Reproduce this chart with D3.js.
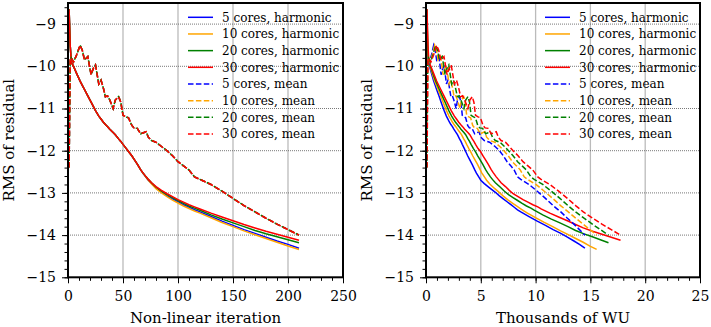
<!DOCTYPE html>
<html>
<head>
<meta charset="utf-8">
<script src="https://cdn.jsdelivr.net/npm/d3@7"></script>
<style>
  body { margin: 0; background: #fff; }
  svg { display: block; font-family: "DejaVu Serif", serif; }
</style>
</head>
<body>
<script>
// iteration numbers the curves were sampled at
const iters = [1, 2, 3, 5, 8, 11, 13, 15, 18, 21, 23, 25, 28, 30, 32, 34, 36, 38, 41, 43,
  46, 48, 50, 53, 55, 58, 60, 63, 66, 68, 71, 73, 76, 80, 85, 90, 95, 100, 105, 110,
  115, 120, 130, 140, 150, 160, 170, 180, 190, 200, 210];

// the four "mean" runs lie on top of each other in iteration space
const meanRms = [-12.4, -9.85, -9.8, -9.9, -9.72, -9.5, -9.62, -9.85, -9.77, -10.2,
  -10.05, -9.97, -10.42, -10.33, -10.5, -10.72, -10.7, -10.8, -11.0, -10.8,
  -10.72, -10.85, -11.16, -11.2, -11.22, -11.4, -11.46, -11.47, -11.6, -11.58,
  -11.55, -11.68, -11.76, -11.8, -11.9, -12.0, -12.12, -12.26, -12.36, -12.46,
  -12.62, -12.68, -12.8, -12.96, -13.13, -13.3, -13.45, -13.6, -13.74, -13.87, -14.0];

const harm30 = [-8.65, -9.5, -9.9, -10.0, -10.18, -10.35, -10.45, -10.55, -10.7, -10.85,
  -10.95, -11.05, -11.18, -11.25, -11.32, -11.38, -11.43, -11.49, -11.57, -11.62,
  -11.72, -11.78, -11.85, -11.95, -12.02, -12.12, -12.2, -12.32, -12.45, -12.52,
  -12.62, -12.68, -12.76, -12.85, -12.94, -13.02, -13.09, -13.16, -13.22, -13.28,
  -13.33, -13.38, -13.48, -13.57, -13.66, -13.75, -13.83, -13.91, -13.98, -14.05, -14.12];
const harm20 = [-8.65, -9.5, -9.9, -10.0, -10.18, -10.35, -10.45, -10.55, -10.7, -10.85,
  -10.95, -11.05, -11.18, -11.25, -11.32, -11.38, -11.43, -11.49, -11.57, -11.62,
  -11.72, -11.78, -11.85, -11.95, -12.02, -12.12, -12.2, -12.32, -12.45, -12.52,
  -12.62, -12.68, -12.76, -12.86, -12.96, -13.04, -13.11, -13.18, -13.25, -13.31,
  -13.36, -13.41, -13.52, -13.62, -13.71, -13.8, -13.89, -13.97, -14.04, -14.11, -14.18];
const harm10 = [-8.65, -9.5, -9.9, -10.0, -10.18, -10.35, -10.45, -10.55, -10.7, -10.85,
  -10.95, -11.05, -11.18, -11.25, -11.32, -11.38, -11.43, -11.49, -11.57, -11.62,
  -11.72, -11.78, -11.85, -11.95, -12.02, -12.12, -12.2, -12.32, -12.45, -12.53,
  -12.63, -12.7, -12.79, -12.9, -13.0, -13.09, -13.17, -13.24, -13.31, -13.37,
  -13.43, -13.48, -13.59, -13.7, -13.8, -13.9, -13.99, -14.08, -14.17, -14.26, -14.34];
const harm5 = [-8.65, -9.5, -9.9, -10.0, -10.18, -10.35, -10.45, -10.55, -10.7, -10.85,
  -10.95, -11.05, -11.18, -11.25, -11.32, -11.38, -11.43, -11.49, -11.57, -11.62,
  -11.72, -11.78, -11.85, -11.95, -12.02, -12.12, -12.2, -12.32, -12.45, -12.53,
  -12.63, -12.7, -12.78, -12.88, -12.98, -13.07, -13.14, -13.21, -13.28, -13.34,
  -13.4, -13.45, -13.56, -13.67, -13.77, -13.87, -13.96, -14.05, -14.14, -14.22, -14.31];

// cumulative work units (thousands) spent at each sampled iteration
const wu5 = [0.06, 0.13, 0.19, 0.32, 0.51, 0.7, 0.84, 0.97, 1.18, 1.38,
  1.52, 1.66, 1.86, 2.0, 2.13, 2.27, 2.41, 2.54, 2.75, 2.87,
  3.06, 3.19, 3.31, 3.5, 3.62, 3.8, 3.96, 4.2, 4.44, 4.6,
  4.84, 5.0, 5.32, 5.8, 6.3, 6.7, 7.05, 7.4, 7.75, 8.05,
  8.35, 8.65, 9.4, 10.15, 10.9, 11.6, 12.3, 12.9, 13.5, 14.0, 14.5];
const wu10 = [0.07, 0.15, 0.21, 0.36, 0.58, 0.79, 0.95, 1.1, 1.33, 1.56,
  1.71, 1.87, 2.1, 2.26, 2.41, 2.56, 2.72, 2.87, 3.1, 3.24,
  3.44, 3.58, 3.71, 3.91, 4.07, 4.26, 4.43, 4.69, 4.94, 5.1,
  5.36, 5.53, 5.82, 6.28, 6.73, 7.11, 7.5, 7.88, 8.26, 8.61,
  8.96, 9.26, 10.03, 10.79, 11.56, 12.28, 12.98, 13.66, 14.34, 14.96, 15.57];
const wu20 = [0.08, 0.16, 0.24, 0.4, 0.64, 0.88, 1.05, 1.22, 1.48, 1.74,
  1.91, 2.08, 2.34, 2.51, 2.68, 2.86, 3.02, 3.19, 3.46, 3.62,
  3.83, 3.97, 4.11, 4.33, 4.51, 4.72, 4.9, 5.17, 5.44, 5.61,
  5.88, 6.06, 6.33, 6.76, 7.16, 7.53, 7.94, 8.36, 8.77, 9.17,
  9.57, 9.87, 10.65, 11.44, 12.22, 12.95, 13.65, 14.42, 15.18, 15.91, 16.65];
const wu30 = [0.09, 0.18, 0.26, 0.44, 0.71, 0.97, 1.16, 1.35, 1.64, 1.92,
  2.11, 2.3, 2.59, 2.78, 2.97, 3.16, 3.34, 3.53, 3.82, 4.0,
  4.22, 4.37, 4.52, 4.75, 4.97, 5.2, 5.39, 5.67, 5.95, 6.13,
  6.41, 6.6, 6.85, 7.25, 7.6, 7.95, 8.4, 8.85, 9.3, 9.75,
  10.2, 10.5, 11.3, 12.1, 12.9, 13.65, 14.35, 15.2, 16.05, 16.9, 17.75];

const coreCounts = [5, 10, 20, 30];
const harmonic = [harm5, harm10, harm20, harm30];
const workUnits = [wu5, wu10, wu20, wu30];

const itTicks = [0, 50, 100, 150, 200, 250];
const wuTicks = [0, 5, 10, 15, 20, 25];
const rmsTicks = [-15, -14, -13, -12, -11, -10, -9];

const lineColors = ["#0000ff", "#ffa500", "#008000", "#ff0000"];
const dashOffsets = [0, 0, 1.2, 0];

const W = 711, H = 327;
const svg = d3.select("body").append("svg").attr("width", W).attr("height", H);

const plotTop = 3, plotBottom = 277.3;
const y = d3.scaleLinear().domain([-15, -8.5]).range([plotBottom, plotTop]);

function panel(left, right, xDomain, xTicks, xMinorStep, xLabel, xOf) {
  const x = d3.scaleLinear().domain(xDomain).range([left, right]);
  const g = svg.append("g");

  // grid
  g.append("g").selectAll("line").data(xTicks.slice(1, -1)).join("line")
    .attr("x1", d => x(d)).attr("x2", d => x(d))
    .attr("y1", plotTop).attr("y2", plotBottom)
    .attr("stroke", "#bbb").attr("stroke-width", 1.3);
  g.append("g").selectAll("line").data(rmsTicks.slice(1)).join("line")
    .attr("x1", left).attr("x2", right)
    .attr("y1", d => y(d)).attr("y2", d => y(d))
    .attr("stroke", "#555").attr("stroke-width", 0.8)
    .attr("stroke-dasharray", "1,1");

  // curves
  const clip = "clip" + left;
  svg.append("clipPath").attr("id", clip).append("rect")
    .attr("x", left).attr("y", plotTop).attr("width", right - left).attr("height", plotBottom - plotTop);
  const curves = g.append("g").attr("clip-path", `url(#${clip})`);
  const line = d3.line().x(d => x(d[0])).y(d => y(d[1]));
  coreCounts.forEach((c, k) => {
    curves.append("path")
      .datum(iters.map((it, i) => [xOf(k, i), harmonic[k][i]]))
      .attr("d", line).attr("fill", "none")
      .attr("stroke", lineColors[k]).attr("stroke-width", 1.5);
  });
  coreCounts.forEach((c, k) => {
    curves.append("path")
      .datum(iters.map((it, i) => [xOf(k, i), meanRms[i]]))
      .attr("d", line).attr("fill", "none")
      .attr("stroke", lineColors[k]).attr("stroke-width", 1.5)
      .attr("stroke-dasharray", "5.5,2.4")
      .attr("stroke-dashoffset", dashOffsets[k]);
  });

  // axes
  const minorX = d3.range(xDomain[0], xDomain[1] + 1e-9, xMinorStep);
  const minorY = d3.range(-15, -8.5 + 1e-9, 0.2);
  g.append("g").attr("transform", `translate(0,${plotBottom})`)
    .call(d3.axisBottom(x).tickValues(minorX).tickSize(3.5).tickFormat(""))
    .call(a => a.select(".domain").remove());
  g.append("g").attr("transform", `translate(${left},0)`)
    .call(d3.axisLeft(y).tickValues(minorY).tickSize(3.5).tickFormat(""))
    .call(a => a.select(".domain").remove());
  const ax = g.append("g").attr("transform", `translate(0,${plotBottom})`)
    .call(d3.axisBottom(x).tickValues(xTicks).tickSize(6).tickPadding(8).tickFormat(d3.format("d")));
  ax.select(".domain").remove();
  ax.selectAll("text").attr("font-size", 14).attr("font-family", "DejaVu Serif").attr("fill", "#000");
  const ay = g.append("g").attr("transform", `translate(${left},0)`)
    .call(d3.axisLeft(y).tickValues(rmsTicks).tickSize(6).tickPadding(6).tickFormat(d3.format("d")));
  ay.select(".domain").remove();
  ay.selectAll("text").attr("font-size", 14).attr("font-family", "DejaVu Serif").attr("fill", "#000");
  g.selectAll(".tick line").attr("stroke", "#000").attr("stroke-width", 1);

  // frame
  g.append("rect").attr("x", left).attr("y", plotTop)
    .attr("width", right - left).attr("height", plotBottom - plotTop)
    .attr("fill", "none").attr("stroke", "#000").attr("stroke-width", 2);

  g.append("text").attr("x", (left + right) / 2).attr("y", 323)
    .attr("text-anchor", "middle").attr("font-size", 15).text(xLabel);
  g.append("text")
    .attr("transform", `translate(${left - 54},${(plotTop + plotBottom) / 2}) rotate(-90)`)
    .attr("text-anchor", "middle").attr("font-size", 15).text("RMS of residual");

  // legend
  const labels = coreCounts.map(c => `${c} cores, harmonic`)
    .concat(coreCounts.map(c => `${c} cores, mean`));
  const leg = g.append("g");
  labels.forEach((t, i) => {
    const ly = 17.3 + i * 16.67;
    leg.append("line").attr("x1", right - 155).attr("x2", right - 130)
      .attr("y1", ly).attr("y2", ly)
      .attr("stroke", lineColors[i % 4]).attr("stroke-width", 1.5)
      .attr("stroke-dasharray", i < 4 ? null : "5.5,2.4");
    leg.append("text").attr("x", right - 121).attr("y", ly + 4.3)
      .attr("font-size", 12).text(t);
  });
}

panel(68, 343, [0, 250], itTicks, 10, "Non-linear iteration", (k, i) => iters[i]);
panel(426, 700, [0, 25], wuTicks, 1, "Thousands of WU", (k, i) => workUnits[k][i]);
</script>
</body>
</html>
